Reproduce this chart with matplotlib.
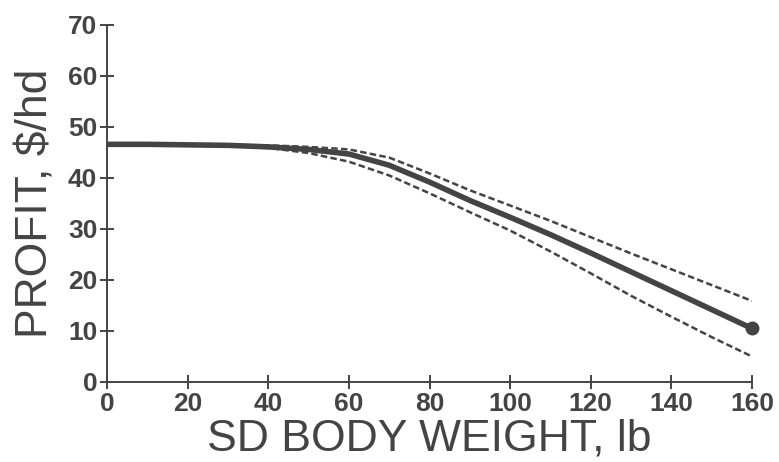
import matplotlib
matplotlib.use("Agg")
import matplotlib.pyplot as plt

# Data
sd_weight = [0, 10, 20, 30, 40, 50, 60, 70, 80, 90, 100, 110, 120, 130, 140, 150, 160]
profit_mean = [46.6, 46.6, 46.5, 46.4, 46.1, 45.6, 44.7, 42.5, 39.2, 35.6, 32.3, 28.9, 25.3, 21.6, 17.9, 14.2, 10.5]
profit_upper = [46.6, 46.6, 46.6, 46.5, 46.4, 46.1, 45.6, 44.0, 40.9, 37.6, 34.6, 31.6, 28.4, 25.2, 22.1, 19.0, 15.9]
profit_lower = [46.6, 46.6, 46.5, 46.3, 45.9, 44.9, 43.2, 40.5, 37.0, 33.3, 29.7, 25.6, 21.3, 16.9, 12.8, 8.8, 5.0]

x_ticks = [0, 20, 40, 60, 80, 100, 120, 140, 160]
y_ticks = [0, 10, 20, 30, 40, 50, 60, 70]

ink = "#444444"

fig = plt.figure(figsize=(7.79, 4.62), dpi=100)
ax = fig.add_axes([0.1374, 0.1732, 0.8279, 0.7727])

ax.plot(sd_weight, profit_upper, color=ink, lw=1.8, dashes=(2.6, 1.3), solid_capstyle="butt")
ax.plot(sd_weight, profit_lower, color=ink, lw=1.8, dashes=(2.6, 1.3), solid_capstyle="butt")
ax.plot(sd_weight, profit_mean, color=ink, lw=4.0, solid_capstyle="round", solid_joinstyle="round")
ax.plot(sd_weight[-1:], profit_mean[-1:], "o", color=ink, ms=9, clip_on=False)

ax.set_xlim(0, 160)
ax.set_ylim(0, 70)
ax.set_xticks(x_ticks)
ax.set_yticks(y_ticks)

for s in ["top", "right"]:
    ax.spines[s].set_visible(False)
for s in ["left", "bottom"]:
    ax.spines[s].set_color(ink)
    ax.spines[s].set_linewidth(1.4)

ax.tick_params(direction="inout", length=10, width=1.4, color=ink, labelcolor=ink, pad=2)
for lab in ax.get_xticklabels() + ax.get_yticklabels():
    lab.set_fontfamily("Liberation Sans")
    lab.set_fontweight("bold")
    lab.set_fontsize(19)

ax.set_xlabel("SD BODY WEIGHT, lb", fontsize=32, family="Liberation Sans", color=ink, labelpad=2)
ax.set_ylabel("PROFIT, $/hd", fontsize=32, family="Liberation Sans", color=ink, labelpad=8)

fig.savefig("out.png", dpi=100)
